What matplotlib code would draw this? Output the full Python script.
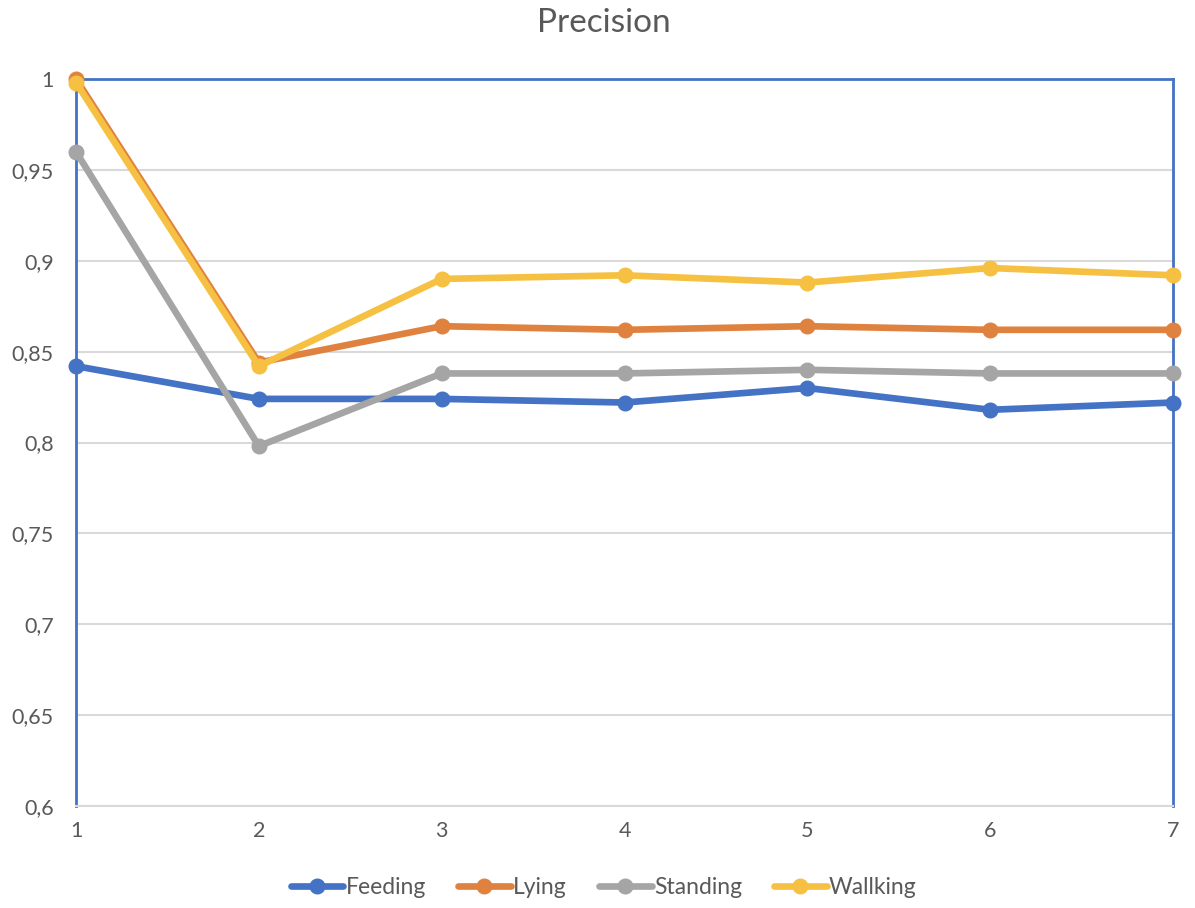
import matplotlib.pyplot as plt
from matplotlib.ticker import FuncFormatter

plt.rcParams['font.family'] = ['Lato', 'DejaVu Sans']

# values per run
runs = [1, 2, 3, 4, 5, 6, 7]
feeding = [0.842, 0.824, 0.824, 0.822, 0.830, 0.818, 0.822]
lying = [1.000, 0.844, 0.864, 0.862, 0.864, 0.862, 0.862]
standing = [0.960, 0.798, 0.838, 0.838, 0.840, 0.838, 0.838]
walking = [0.998, 0.842, 0.890, 0.892, 0.888, 0.896, 0.892]

series = [
    ('Feeding', feeding, '#4472C4'),
    ('Lying', lying, '#E0823F'),
    ('Standing', standing, '#A5A5A5'),
    ('Wallking', walking, '#F6C142'),
]

fig = plt.figure(figsize=(11.95, 9.08), dpi=100)
ax = fig.add_axes([0.0636, 0.1123, 0.918, 0.8007])

for name, vals, col in series:
    ax.plot(runs, vals, color=col, lw=4.8, marker='o', ms=10.5,
            label=name, solid_capstyle='round', clip_on=False, zorder=3)

ax.set_xlim(1, 7)
ax.set_ylim(0.6, 1.0)
ax.set_xticks(runs)
ax.set_yticks([0.6, 0.65, 0.7, 0.75, 0.8, 0.85, 0.9, 0.95, 1.0])
ax.yaxis.set_major_formatter(FuncFormatter(lambda v, p: f'{v:g}'.replace('.', ',')))
ax.grid(axis='y', color='#D9D9D9', lw=1.5)
ax.set_axisbelow(True)
ax.tick_params(length=0, labelsize=15.5, labelcolor='#595959', pad=11)
ax.tick_params(axis='y', pad=16)

for s in ['left', 'top', 'right']:
    ax.spines[s].set_color('#4472C4')
    ax.spines[s].set_linewidth(2)
ax.spines['bottom'].set_color('#D9D9D9')
ax.spines['bottom'].set_linewidth(1.5)

fig.text(0.505, 0.975, 'Precision', fontsize=24, color='#595959',
         ha='center', va='center')

ax.legend(loc='center', bbox_to_anchor=(0.481, -0.112), ncol=4,
          frameon=False, fontsize=16.5, labelcolor='#595959',
          handlelength=2.3, handletextpad=0.1, columnspacing=1.4)

fig.savefig('out.png', dpi=100)
